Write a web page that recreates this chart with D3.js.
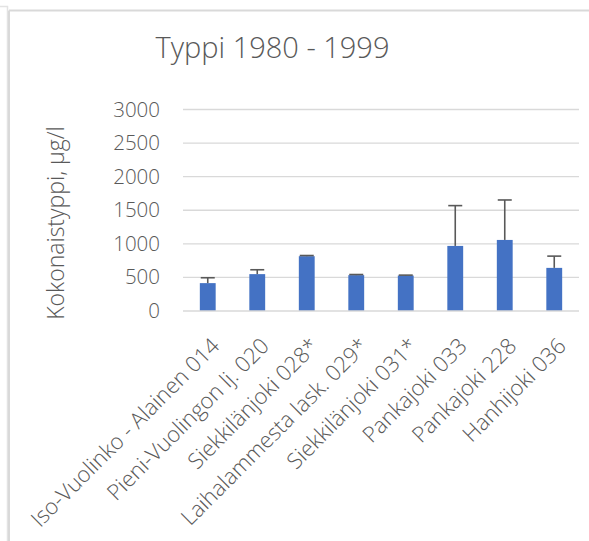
<!DOCTYPE html>
<html><head><meta charset="utf-8">
<script src="https://cdn.jsdelivr.net/npm/d3@7"></script>
<style>
html,body{margin:0;padding:0;background:#fff;}
svg{display:block;font-family:"Segoe UI","Open Sans","Noto Sans",sans-serif;font-weight:350;}
</style></head>
<body>
<svg id="c" width="589" height="541"></svg>
<script>
const categories = ["Iso-Vuolinko - Alainen 014","Pieni-Vuolingon lj. 020","Siekkilänjoki 028*","Laihalammesta lask. 029*","Siekkilänjoki 031*","Pankajoki 033","Pankajoki 228","Hanhijoki 036"];
const values = [415, 549, 816, 534, 528, 969, 1058, 642];
const errors = [80, 65, 10, 9, 6, 600, 595, 175];
const yTicks = [0, 500, 1000, 1500, 2000, 2500, 3000];
const title = "Typpi 1980 - 1999";
const yTitle = "Kokonaistyppi, µg/l";

const svg = d3.select("#c");
const txt = "#595959";

// frame
svg.append("path").attr("d","M0,6.5H7.5V541").attr("fill","none").attr("stroke","#e3e3e3").attr("stroke-width",1.5);
svg.append("path").attr("d","M9,10.5H589M9,10.5V541").attr("fill","none").attr("stroke","#d9d9d9").attr("stroke-width",2);

const x = d3.scaleBand().domain(categories).range([183,579]).paddingInner(0.68).paddingOuter(0.34);
const y = d3.scaleLinear().domain([0,3000]).range([311,109.5]);

// gridlines
svg.append("g").selectAll("line").data(yTicks.slice(1)).join("line")
  .attr("x1",183).attr("x2",579).attr("y1",d=>y(d)).attr("y2",d=>y(d))
  .attr("stroke","#d9d9d9").attr("stroke-width",1.3);

// y axis labels
const yAxis = d3.axisLeft(y).tickValues(yTicks).tickSize(0).tickPadding(0).tickFormat(d3.format("d"));
const yg = svg.append("g").attr("transform","translate(160,0)").call(yAxis)
  .attr("font-family",null).attr("font-size","20.5px");
yg.select(".domain").remove();
yg.selectAll("text").attr("fill",txt);

// bars
svg.append("g").selectAll("rect").data(values).join("rect")
  .attr("x",(d,i)=>x(categories[i])).attr("width",x.bandwidth())
  .attr("y",d=>y(d)).attr("height",d=>y(0)-y(d))
  .attr("fill","#4472C4");

// error bars
const eg = svg.append("g").attr("stroke","#595959").attr("stroke-width",1.6);
values.forEach((v,i)=>{
  const cx = x(categories[i]) + x.bandwidth()/2;
  eg.append("line").attr("x1",cx).attr("x2",cx).attr("y1",y(v)).attr("y2",y(v+errors[i]));
  eg.append("line").attr("x1",cx-7).attr("x2",cx+7).attr("y1",y(v+errors[i])).attr("y2",y(v+errors[i]));
});

// x axis line
svg.append("line").attr("x1",183).attr("x2",579).attr("y1",y(0)).attr("y2",y(0))
  .attr("stroke","#d9d9d9").attr("stroke-width",1.5);

// x labels
svg.append("g").selectAll("text").data(categories).join("text")
  .attr("transform",d=>`translate(${x(d)+x.bandwidth()/2+7.7},342) rotate(-45)`)
  .attr("text-anchor","end").attr("dy","0.35em")
  .attr("fill",txt).attr("font-size","22px").text(d=>d);

// title
svg.append("text").attr("x",272.5).attr("y",58).attr("text-anchor","middle")
  .attr("fill",txt).attr("font-size","29px").text(title);

// y title
svg.append("text").attr("transform","translate(64,223) rotate(-90)")
  .attr("text-anchor","middle").attr("fill",txt).attr("font-size","23px").text(yTitle);
</script>
</body></html>
